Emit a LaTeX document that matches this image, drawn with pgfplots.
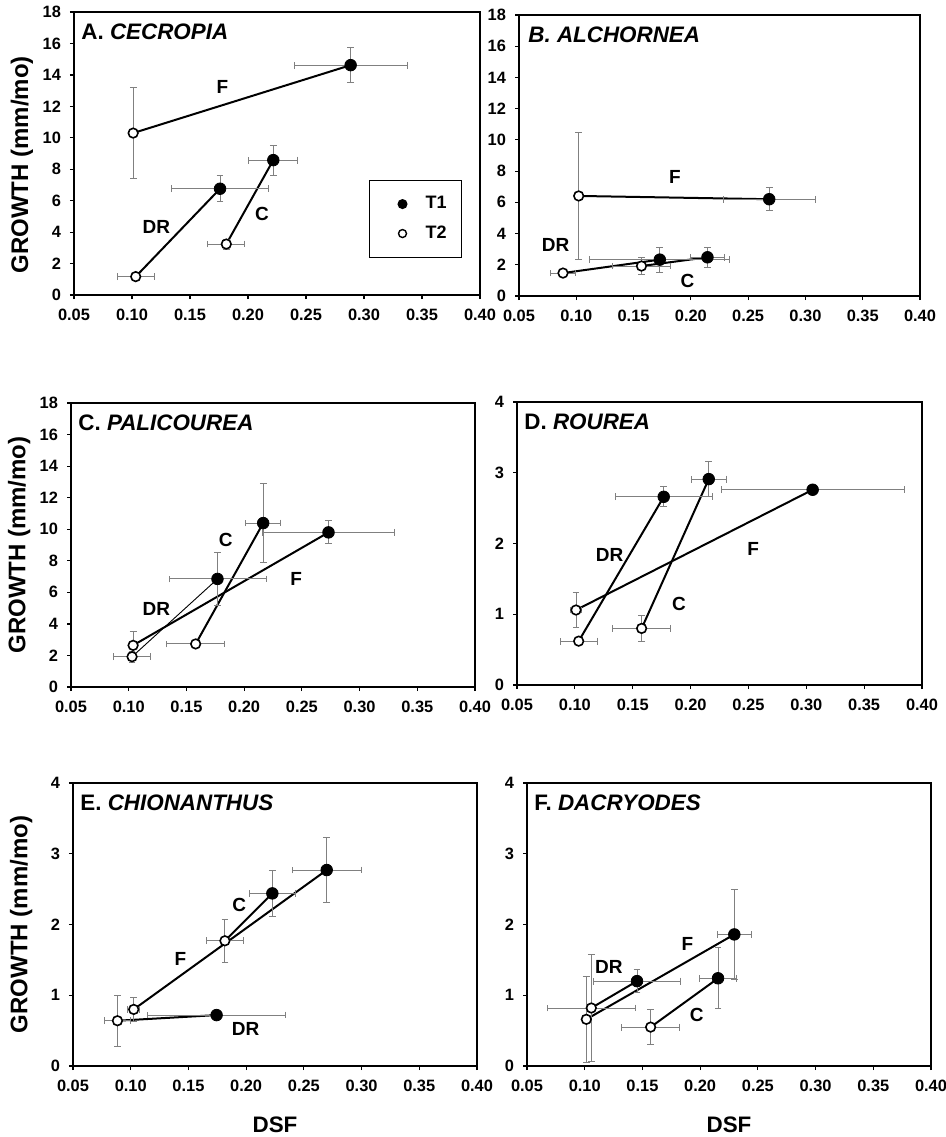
\documentclass[border=0pt]{standalone}
\usepackage{fontspec}
\setmainfont{Liberation Sans}
\usepackage{pgfplots}
\usepackage{pgfplotstable}
\pgfplotsset{compat=1.18}

% ---------- data: x y ex ey (T1 = filled, T2 = open); rows F, DR, C ----------
\pgfplotstableread{
x y ex ey
0.2885 14.62 0.0486 1.11
0.1759 6.76 0.042 0.83
0.2218 8.58 0.021 0.96
}\AT
\pgfplotstableread{
x y ex ey
0.1010 10.30 0.0 2.90
0.1032 1.17 0.016 0.15
0.1813 3.24 0.016 0.32
}\AU
\pgfplotstableread{
x y ex ey
0.2684 6.20 0.040 0.73
0.1729 2.33 0.061 0.80
0.2145 2.48 0.015 0.64
}\BT
\pgfplotstableread{
x y ex ey
0.1021 6.41 0.0 4.06
0.0884 1.47 0.011 0.10
0.1569 1.92 0.025 0.53
}\BU
\pgfplotstableread{
x y ex ey
0.2731 9.80 0.057 0.73
0.1769 6.85 0.042 1.67
0.2165 10.39 0.015 2.50
}\CT
\pgfplotstableread{
x y ex ey
0.1038 2.64 0.0 0.85
0.1029 1.92 0.016 0.35
0.1580 2.73 0.025 0.10
}\CU
\pgfplotstableread{
x y ex ey
0.3055 2.76 0.079 0.03
0.1768 2.66 0.042 0.14
0.2157 2.91 0.015 0.25
}\DT
\pgfplotstableread{
x y ex ey
0.1010 1.06 0.005 0.25
0.1033 0.62 0.016 0.03
0.1577 0.80 0.025 0.19
}\DU
\pgfplotstableread{
x y ex ey
0.2698 2.77 0.030 0.46
0.1744 0.72 0.060 0.05
0.2227 2.44 0.020 0.33
}\ET
\pgfplotstableread{
x y ex ey
0.1026 0.80 0.005 0.17
0.0885 0.64 0.011 0.36
0.1816 1.77 0.016 0.30
}\EU
\pgfplotstableread{
x y ex ey
0.2296 1.86 0.015 0.63
0.1453 1.20 0.038 0.16
0.2155 1.24 0.016 0.43
}\FT
\pgfplotstableread{
x y ex ey
0.1014 0.66 0.0 0.61
0.1057 0.82 0.038 0.75
0.1571 0.55 0.025 0.25
}\FU

\tikzset{
  lab/.style={font=\bfseries\fontsize{9.5}{11}\selectfont},
  ttl/.style={anchor=north west, inner sep=0pt, font=\bfseries\fontsize{11.2}{13}\selectfont},
}
\pgfplotsset{
  panel/.style={
    scale only axis, anchor=south west,
    xmin=0.05, xmax=0.40,
    xtick={0.05,0.10,0.15,0.20,0.25,0.30,0.35,0.40},
    axis line style={line width=0.7pt},
    tick align=outside, xtick pos=left, ytick pos=left,
    major tick length=2pt,
    tick style={black, line width=0.6pt},
    /pgf/number format/assume math mode=true,
    ticklabel style={font=\bfseries\fontsize{8.2}{9}\selectfont},
    xticklabel style={/pgf/number format/fixed, /pgf/number format/fixed zerofill, /pgf/number format/precision=2, yshift=-1.5pt},
    yticklabel style={xshift=-1pt},
    clip=false,
  },
  big/.style={ymin=0, ymax=18, ytick={0,2,...,18}},
  small/.style={ymin=0, ymax=4, ytick={0,1,2,3,4}},
  ylab/.style={ylabel={GROWTH (mm/mo)}, ylabel style={at={(axis description cs:-0.128,#1)}, anchor=center, font=\bfseries\fontsize{12}{14}\selectfont}},
  xlab/.style={xlabel={DSF}, xlabel style={at={(axis description cs:0.5,-0.2085)}, anchor=center, font=\bfseries\fontsize{11.2}{13}\selectfont}},
  ln/.style={black, line width=1pt, no markers, forget plot},
  eb/.style={forget plot,
    error bars/x dir=both, error bars/x explicit,
    error bars/y dir=both, error bars/y explicit,
    error bars/error bar style={gray, line width=0.45pt},
    error bars/error mark options={rotate=90, gray, mark size=1.7pt, line width=0.45pt}},
  tone/.style={only marks, mark=*, mark size=2.9pt, mark options={fill=black, draw=black}, eb},
  ttwo/.style={only marks, mark=*, mark size=2.4pt, mark options={fill=white, draw=black, line width=0.8pt}, eb},
}

\begin{document}
\begin{tikzpicture}
\useasboundingbox (0,0) rectangle (473pt,-568.5pt);

% ---------------- A ----------------
\begin{axis}[panel, big, ylab=0.46, at={(74*0.5pt,-295*0.5pt)}, width=203pt, height=141.5pt,
  legend style={at={(rel axis cs:0.956,0.131)}, anchor=south east, draw=black, line width=0.6pt,
    font=\bfseries\fontsize{9}{10}\selectfont, inner xsep=5.5pt, inner ysep=6pt, row sep=3pt, cells={anchor=west}},
  legend image code/.code={\path (0pt,-3pt) (20pt,3pt);\draw[mark repeat=2,mark phase=2] plot coordinates {(0pt,0pt) (10.8pt,0pt) (20pt,0pt)};}]
\addplot[ln] coordinates {(0.1010,10.30) (0.2885,14.62)};
\addplot[ln] coordinates {(0.1032,1.17) (0.1759,6.76)};
\addplot[ln] coordinates {(0.1813,3.24) (0.2218,8.58)};
\addplot[tone] table[x=x,y=y,x error=ex,y error=ey]{\AT};
\addplot[ttwo] table[x=x,y=y,x error=ex,y error=ey]{\AU};
\addlegendimage{only marks, mark=*, mark size=2.2pt, black}
\addlegendimage{only marks, mark=*, mark size=2pt, mark options={fill=white, draw=black, line width=0.7pt}}
\legend{T1,T2}
\node[ttl] at ([xshift=3.5pt,yshift=-5.5pt]rel axis cs:0,1) {A. \textit{CECROPIA}};
\node[lab] at (axis cs:0.178,13.24) {F};
\node[lab] at (axis cs:0.121,4.34) {DR};
\node[lab] at (axis cs:0.212,5.15) {C};
\end{axis}

% ---------------- B ----------------
\begin{axis}[panel, big, at={(519*0.5pt,-296*0.5pt)}, width=200.5pt, height=140.5pt]
\addplot[ln] coordinates {(0.1021,6.41) (0.2684,6.20)};
\addplot[ln] coordinates {(0.0884,1.47) (0.1729,2.33)};
\addplot[ln] coordinates {(0.1569,1.92) (0.2145,2.48)};
\addplot[tone] table[x=x,y=y,x error=ex,y error=ey]{\BT};
\addplot[ttwo] table[x=x,y=y,x error=ex,y error=ey]{\BU};
\node[ttl] at ([xshift=4.5pt,yshift=-5.5pt]rel axis cs:0,1) {\textit{B. ALCHORNEA}};
\node[lab] at (axis cs:0.186,7.63) {F};
\node[lab] at (axis cs:0.082,3.29) {DR};
\node[lab] at (axis cs:0.197,0.96) {C};
\end{axis}

% ---------------- C ----------------
\begin{axis}[panel, big, ylab=0.5, at={(71*0.5pt,-687*0.5pt)}, width=202pt, height=142pt]
\addplot[ln] coordinates {(0.1038,2.64) (0.2731,9.80)};
\addplot[black, line width=0.45pt, no markers, forget plot] coordinates {(0.1029,1.92) (0.1769,6.85)};
\addplot[ln] coordinates {(0.1580,2.73) (0.2165,10.39)};
\addplot[tone] table[x=x,y=y,x error=ex,y error=ey]{\CT};
\addplot[ttwo] table[x=x,y=y,x error=ex,y error=ey]{\CU};
\node[ttl] at ([xshift=3.5pt,yshift=-5.5pt]rel axis cs:0,1) {C. \textit{PALICOUREA}};
\node[lab] at (axis cs:0.184,9.34) {C};
\node[lab] at (axis cs:0.245,6.87) {F};
\node[lab] at (axis cs:0.124,4.92) {DR};
\end{axis}

% ---------------- D ----------------
\begin{axis}[panel, small, at={(517*0.5pt,-685*0.5pt)}, width=202.5pt, height=141.5pt]
\addplot[ln] coordinates {(0.1010,1.06) (0.3055,2.76)};
\addplot[ln] coordinates {(0.1033,0.62) (0.1768,2.66)};
\addplot[ln] coordinates {(0.1577,0.80) (0.2157,2.91)};
\addplot[tone] table[x=x,y=y,x error=ex,y error=ey]{\DT};
\addplot[ttwo] table[x=x,y=y,x error=ex,y error=ey]{\DU};
\node[ttl] at ([xshift=3.5pt,yshift=-5.5pt]rel axis cs:0,1) {D. \textit{ROUREA}};
\node[lab] at (axis cs:0.130,1.84) {DR};
\node[lab] at (axis cs:0.254,1.93) {F};
\node[lab] at (axis cs:0.190,1.14) {C};
\end{axis}

% ---------------- E ----------------
\begin{axis}[panel, small, ylab=0.5, xlab, at={(73*0.5pt,-1066*0.5pt)}, width=202pt, height=141.5pt]
\addplot[ln] coordinates {(0.1026,0.80) (0.2698,2.77)};
\addplot[ln] coordinates {(0.0885,0.64) (0.1744,0.72)};
\addplot[ln] coordinates {(0.1816,1.77) (0.2227,2.44)};
\addplot[tone] table[x=x,y=y,x error=ex,y error=ey]{\ET};
\addplot[ttwo] table[x=x,y=y,x error=ex,y error=ey]{\EU};
\node[ttl] at ([xshift=3.5pt,yshift=-5.5pt]rel axis cs:0,1) {E. \textit{CHIONANTHUS}};
\node[lab] at (axis cs:0.194,2.28) {C};
\node[lab] at (axis cs:0.143,1.51) {F};
\node[lab] at (axis cs:0.1995,0.52) {DR};
\end{axis}

% ---------------- F ----------------
\begin{axis}[panel, small, xlab, at={(527*0.5pt,-1066*0.5pt)}, width=202pt, height=141.5pt]
\addplot[ln] coordinates {(0.1014,0.66) (0.2296,1.86)};
\addplot[ln] coordinates {(0.1057,0.82) (0.1453,1.20)};
\addplot[ln] coordinates {(0.1571,0.55) (0.2155,1.24)};
\addplot[tone] table[x=x,y=y,x error=ex,y error=ey]{\FT};
\addplot[ttwo] table[x=x,y=y,x error=ex,y error=ey]{\FU};
\node[ttl] at ([xshift=3.5pt,yshift=-5.5pt]rel axis cs:0,1) {F. \textit{DACRYODES}};
\node[lab] at (axis cs:0.189,1.73) {F};
\node[lab] at (axis cs:0.121,1.40) {DR};
\node[lab] at (axis cs:0.197,0.72) {C};
\end{axis}
\end{tikzpicture}
\end{document}
